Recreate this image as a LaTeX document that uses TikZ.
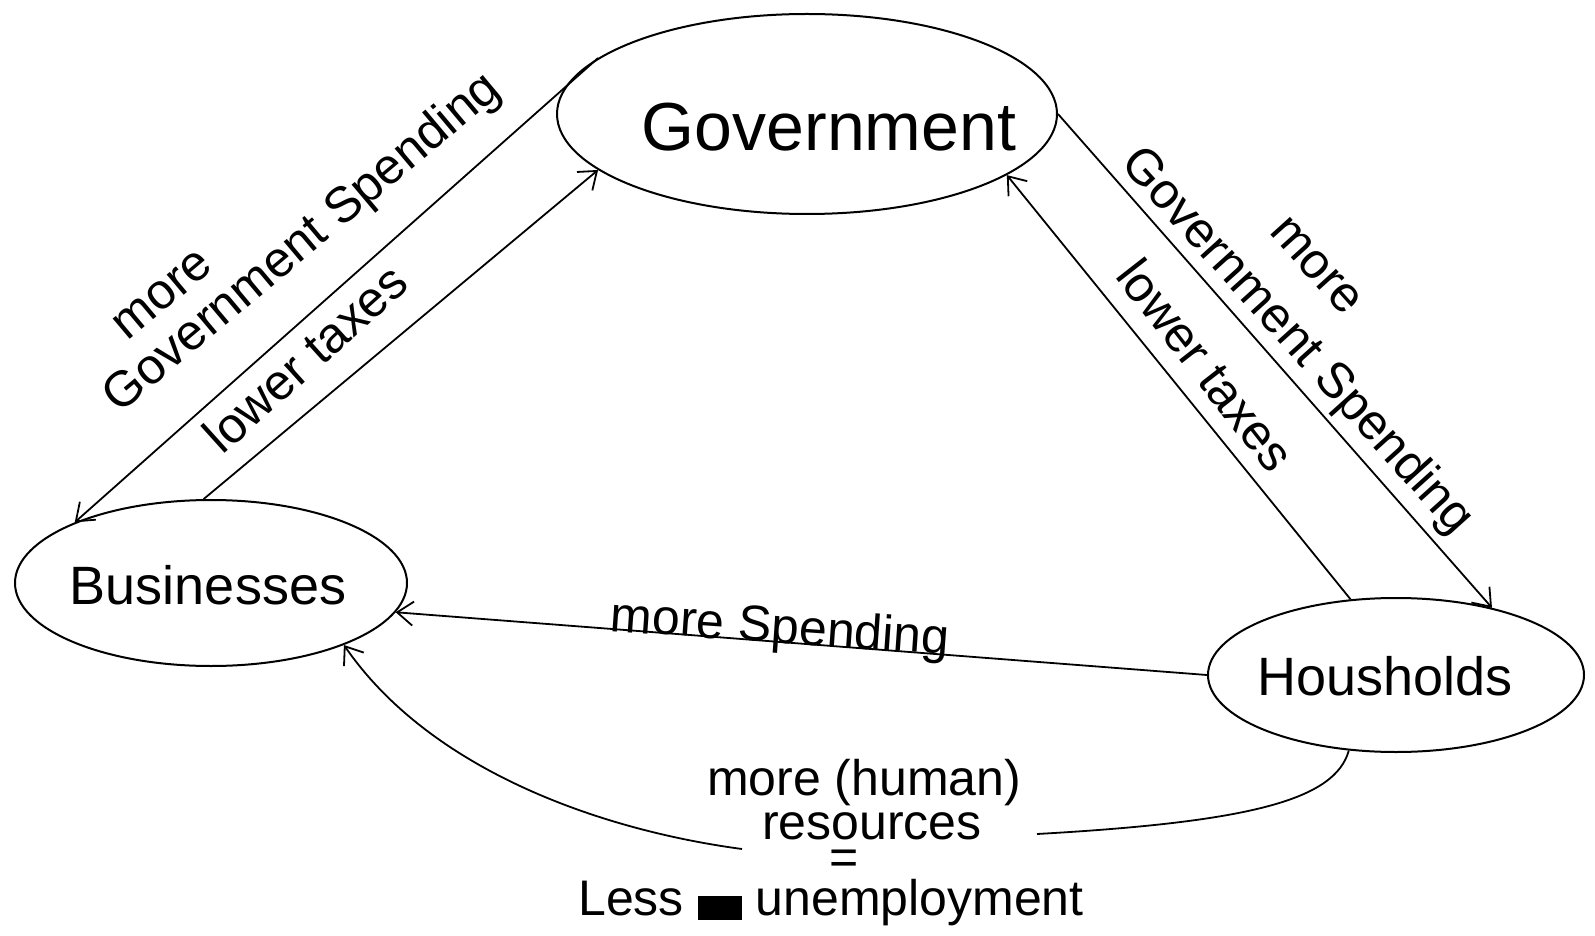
\documentclass[tikz,border=0pt]{standalone}
\usepackage{fontspec}
\setmainfont{Liberation Sans}
\usetikzlibrary{shapes.geometric,arrows.meta}
\begin{document}
\begin{tikzpicture}[x=0.5pt,y=-0.5pt,
  blob/.style={ellipse,draw,line width=1pt,inner sep=0pt},
  txt/.style={inner sep=0pt},
  big/.style={font=\fontsize{34}{40}\selectfont},
  mid/.style={font=\fontsize{27}{32}\selectfont},
  lab/.style={inner sep=0pt,font=\fontsize{25}{30}\selectfont},
  conn/.style={line width=0.9pt,-{Straight Barb[length=8pt,width=12pt]}},
  plain/.style={line width=0.9pt},
]
\useasboundingbox (0,0) rectangle (1595,936);
% entities
\node[blob,minimum width=250pt,minimum height=100pt] (gov) at (807,114) {};
\node[blob,minimum width=196pt,minimum height=83pt] (bus) at (211,583) {};
\node[blob,minimum width=188pt,minimum height=77pt] (hh) at (1396,675) {};
\node[txt,big] (govt) at (829,127) {Government};
\node[txt,mid] (bust) at (208,585) {Businesses};
\node[txt,mid] (hht) at (1385,676) {Housholds};
% connectors
\draw[conn] (gov.165) -- (bus.156);
\draw[conn] (bus.95) -- (gov.195);
\draw[conn] (gov.0) -- (hh.35);
\draw[conn] (hh.121) -- (gov.343);
\draw[conn] (hh.180) -- (bus.351);
\coordinate (c1) at (1037,834);
\coordinate (c2) at (742,849);
\draw[plain] (hh.238) .. controls (1335,800) and (1250,822) .. (c1);
\draw[conn] (c2) .. controls (600,830) and (430,770) .. (bus.335);
% labels
\node[lab,rotate=40] (la1) at (163,295) {more};
\node[lab,rotate=40] (la2) at (303,244) {Government Spending};
\node[lab,rotate=42] (lb) at (305,358) {lower taxes};
\node[lab,rotate=-48] (lc1) at (1316,266) {more};
\node[lab,rotate=-48] (lc2) at (1296,342) {Government Spending};
\node[lab,rotate=-52] (ld) at (1206,365) {lower taxes};
\node[lab,rotate=-4] (le) at (780,630) {more Spending};
\node[lab] (lf1) at (864,783) {more (human)};
\node[lab] (lf2) at (872,826) {resources};
\node[lab] (lf3) at (844,862) {=};
\node[lab] (lf4) at (831,903) {Less \rule[-2pt]{22pt}{12pt} unemployment};
\end{tikzpicture}
\end{document}
